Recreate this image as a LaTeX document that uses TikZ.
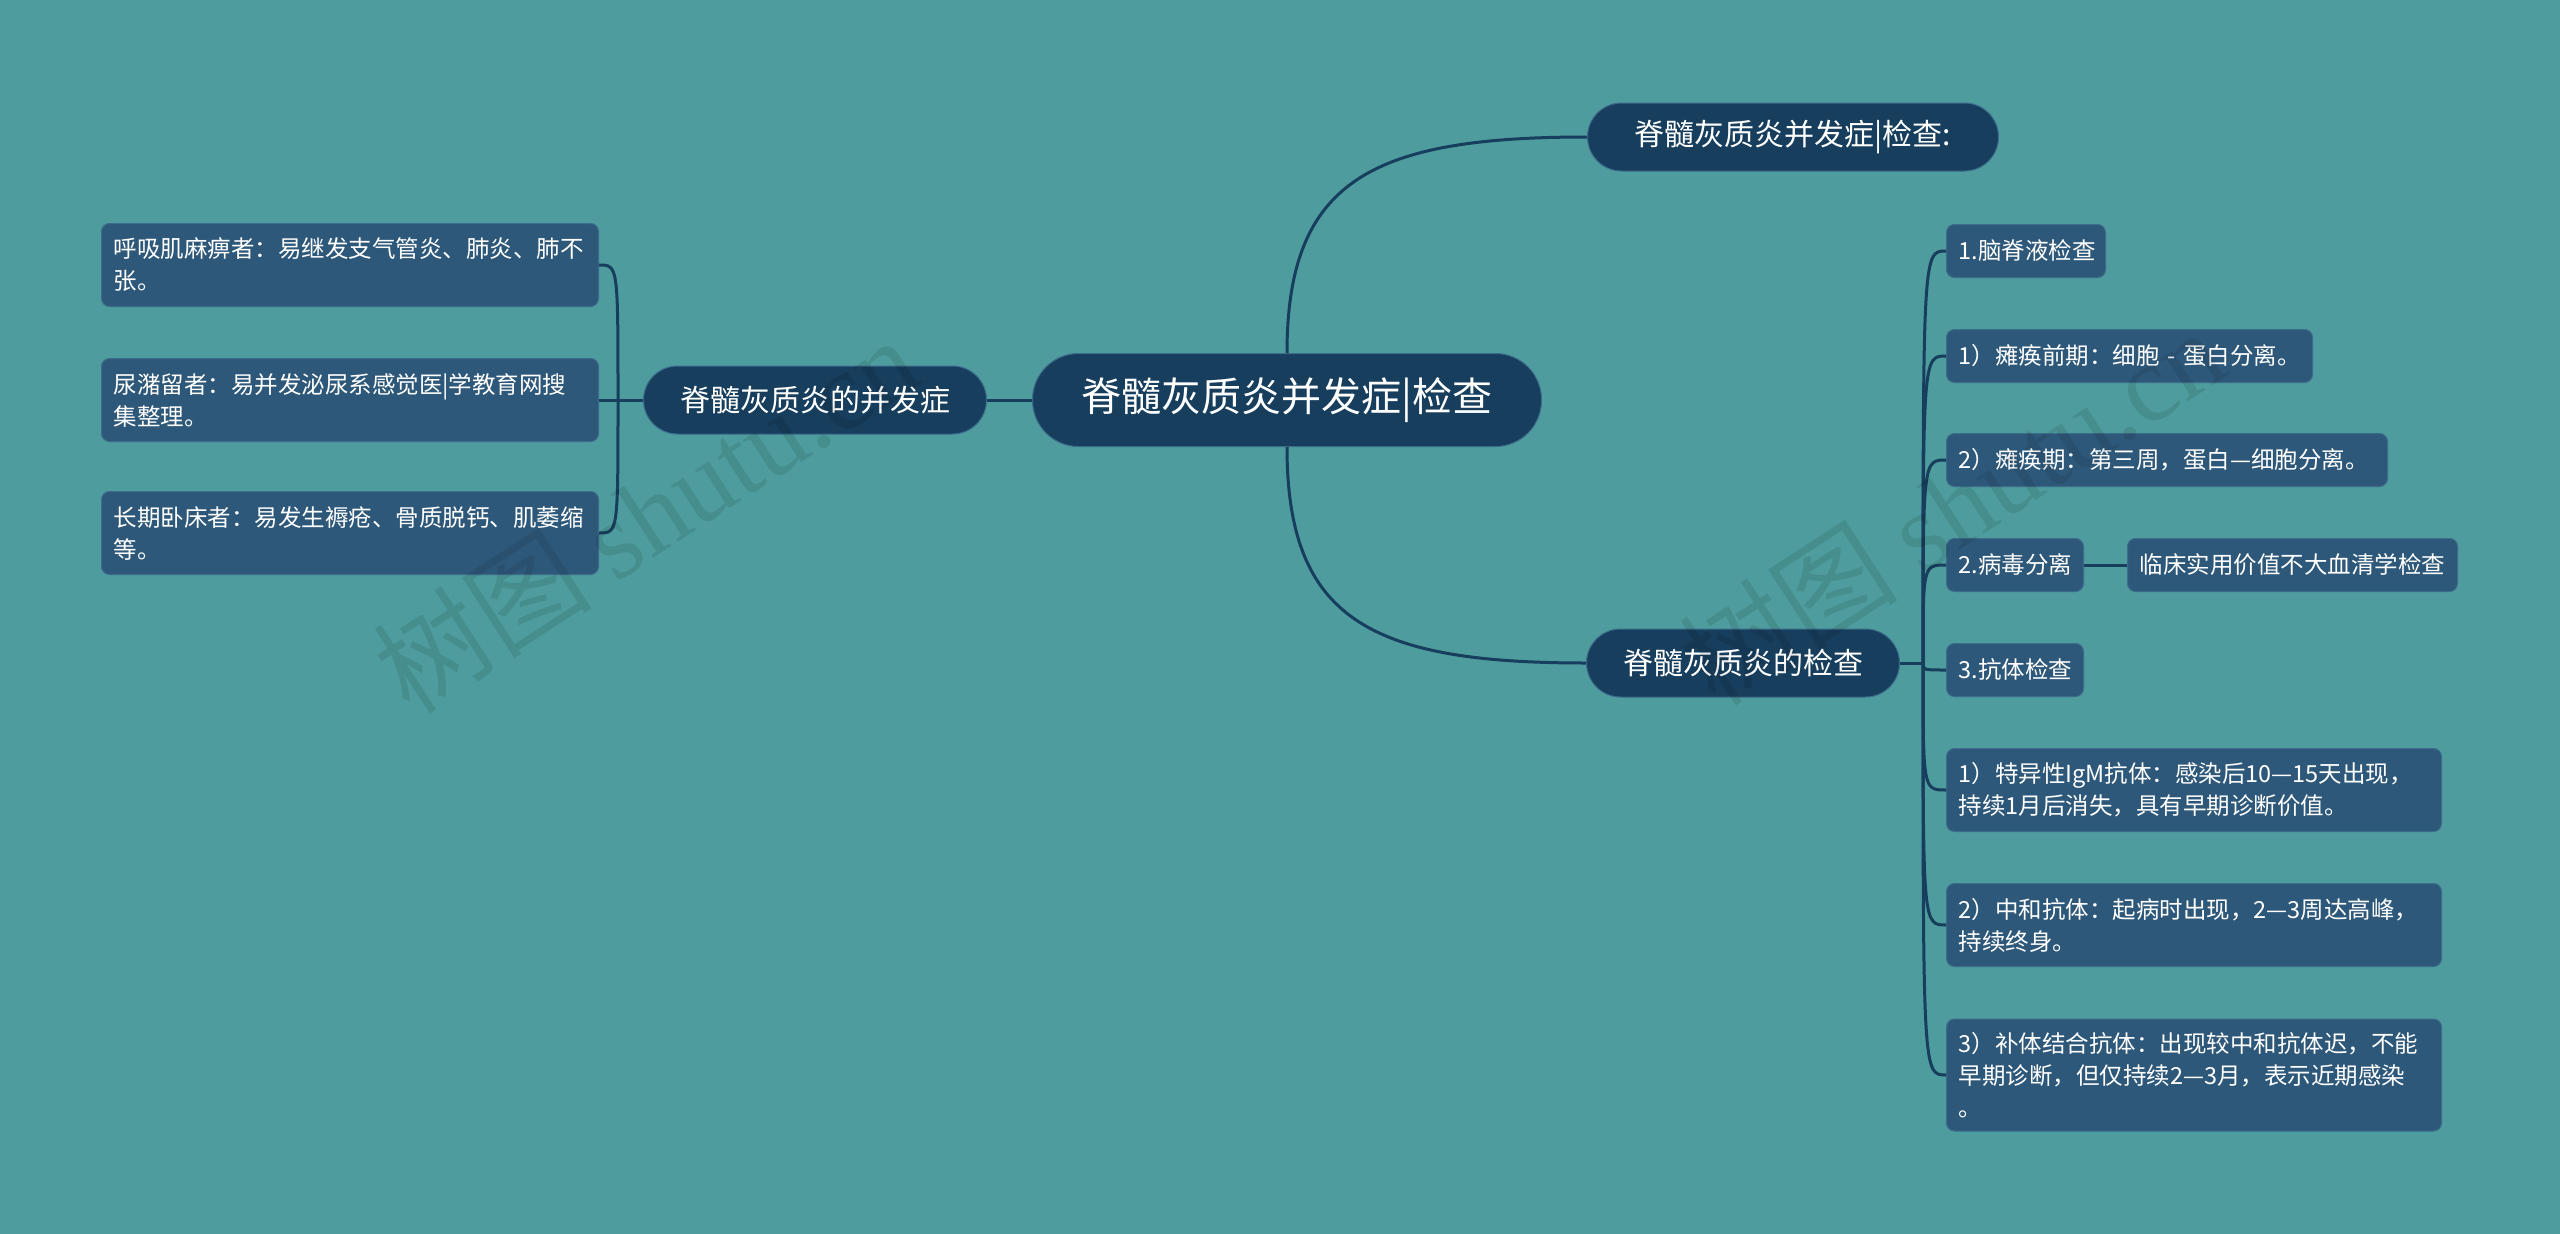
\documentclass[tikz,border=0pt]{standalone}
\usepackage{fontspec}
\setmainfont{Noto Sans CJK SC}
\newfontfamily\wmserif{Liberation Serif}
\usetikzlibrary{calc}
\definecolor{bgc}{HTML}{4E9C9D}
\definecolor{mainc}{HTML}{173E5D}
\definecolor{leafc}{HTML}{2E5879}
\definecolor{leafb}{HTML}{3D6B8B}
\definecolor{linec}{HTML}{173E5D}
\begin{document}
\begin{tikzpicture}[x=1pt,y=-1pt,
  conn/.style={draw=linec, line width=3pt},
  rootbox/.style={fill=mainc, draw=leafb, line width=1pt, text=white, rounded corners=46pt, minimum width=509pt, minimum height=93pt, inner sep=0pt, font=\fontsize{40}{48}\selectfont},
  mainbox/.style={fill=mainc, draw=leafb, line width=1pt, text=white, rounded corners=34pt, minimum height=68pt, inner sep=0pt, font=\fontsize{30}{36}\selectfont},
  leafbox/.style={fill=leafc, draw=leafb, line width=1pt, text=white, rounded corners=8pt, inner xsep=12pt, inner ysep=2pt, align=left, anchor=west, font=\fontsize{23.5}{32}\selectfont},
  wmark/.style={rotate=33, text=black, opacity=0.09, font=\fontsize{110}{110}\selectfont}
]
\fill[bgc] (0,0) rectangle (2560,1234);
\useasboundingbox (0,0) rectangle (2560,1234);

% main nodes
\node[rootbox] (root) at (1287,400) {脊髓灰质炎并发症|检查};
\node[mainbox, minimum width=343pt] (lm) at (815,400) {脊髓灰质炎的并发症};
\node[mainbox, minimum width=411pt] (tr) at (1793,137) {脊髓灰质炎并发症|检查:};
\node[mainbox, minimum width=313pt] (br) at (1743,663) {脊髓灰质炎的检查};

% left leaves
\node[leafbox, text width=473pt, minimum height=83pt] (l1) at (101,265) {呼吸肌麻痹者：易继发支气管炎、肺炎、肺不\\张。};
\node[leafbox, text width=473pt, minimum height=83pt] (l2) at (101,400) {尿潴留者：易并发泌尿系感觉医|学教育网搜\\集整理。};
\node[leafbox, text width=473pt, minimum height=83pt] (l3) at (101,533) {长期卧床者：易发生褥疮、骨质脱钙、肌萎缩\\等。};

% right leaves
\node[leafbox, text width=135pt, minimum height=53pt] (r1) at (1946,251) {1.脑脊液检查};
\node[leafbox, text width=342pt, minimum height=53pt] (r2) at (1946,356) {\mbox{1）瘫痪前期：细胞 - 蛋白分离。}};
\node[leafbox, text width=417pt, minimum height=53pt] (r3) at (1946,460) {2）瘫痪期：第三周，蛋白—细胞分离。};
\node[leafbox, text width=113pt, minimum height=53pt] (r4) at (1946,565) {2.病毒分离};
\node[leafbox, text width=306pt, minimum height=53pt] (r4b) at (2127,565) {临床实用价值不大血清学检查};
\node[leafbox, text width=113pt, minimum height=53pt] (r5) at (1946,670) {3.抗体检查};
\node[leafbox, text width=471pt, minimum height=83pt] (r6) at (1946,790) {1）特异性IgM抗体：感染后10—15天出现，\\持续1月后消失，具有早期诊断价值。};
\node[leafbox, text width=471pt, minimum height=83pt] (r7) at (1946,925) {2）中和抗体：起病时出现，2—3周达高峰，\\持续终身。};
\node[leafbox, text width=471pt, minimum height=112pt] (r8) at (1946,1075) {3）补体结合抗体：出现较中和抗体迟，不能\\早期诊断，但仅持续2—3月，表示近期感染\\。};

% connectors
\draw[conn] (root.west) -- (lm.east);
\draw[conn] (root.north) .. controls ($(root.north)+(0,-173)$) and ($(tr.west)+(-215,0)$) .. (tr.west);
\draw[conn] (root.south) .. controls ($(root.south)+(0,173)$) and ($(br.west)+(-215,0)$) .. (br.west);

\coordinate (lj) at (618,400);
\draw[conn] (lm.west) -- (lj);
\foreach \c in {l1,l2,l3}{
  \draw[conn] (lj) .. controls (lj |- \c.east) .. (\c.east);
}

\coordinate (rj) at (1923,663);
\draw[conn] (br.east) -- (rj);
\foreach \c in {r1,r2,r3,r4,r5,r6,r7,r8}{
  \draw[conn] (rj) .. controls (rj |- \c.west) .. (\c.west);
}
\draw[conn] (r4.east) -- (r4b.west);

% watermarks
\node[wmark] (wm1) at (645,514) {树图 {\wmserif shutu.cn}};
\node[wmark] (wm2) at (1951,506) {树图 {\wmserif shutu.cn}};
\end{tikzpicture}
\end{document}
